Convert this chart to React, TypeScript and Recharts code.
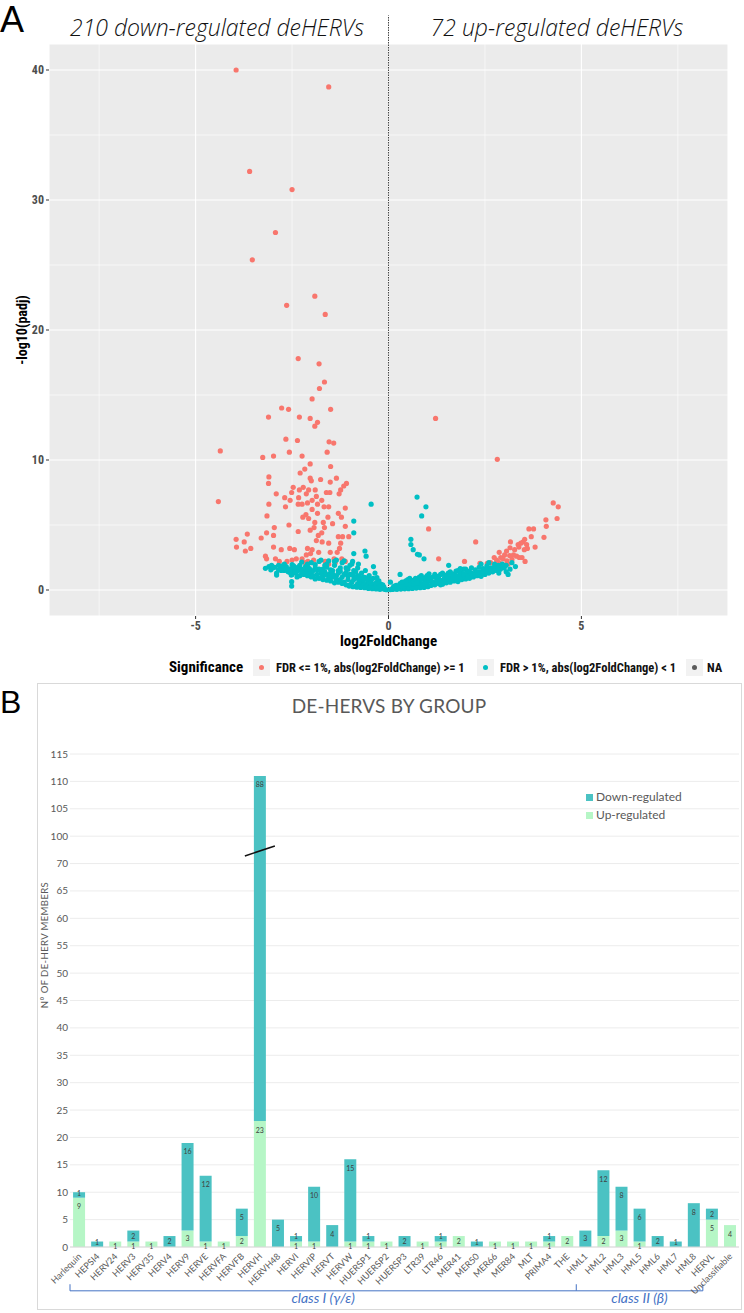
import React from "react";
import {
  ScatterChart,
  Scatter,
  XAxis,
  YAxis,
  CartesianGrid,
  ReferenceLine,
  ReferenceDot,
  BarChart,
  Bar,
  LabelList,
} from "recharts";

// ---------- panel A : volcano plot ----------
const redPoints: [number, number][] = [
  [-3.95, 40.0], [-1.55, 38.7], [-3.6, 32.2], [-2.5, 30.8],
  [-2.93, 27.5], [-3.53, 25.4], [-1.91, 22.6], [-2.64, 21.9], [-1.64, 21.2],
  [-2.34, 17.8], [-1.8, 17.4], [-1.66, 16.0], [-1.79, 15.5], [-1.98, 14.7],
  [-2.77, 14.0], [-2.59, 13.9], [-1.5, 13.9], [-3.11, 13.3], [-2.31, 13.3],
  [-2.03, 13.2], [-1.84, 12.9], [-1.91, 12.6], [-2.66, 11.6], [-2.36, 11.5],
  [-1.54, 11.4], [-1.42, 11.3], [-4.36, 10.7], [-2.57, 10.6], [-1.59, 10.6],
  [-3.26, 10.2], [-2.98, 10.3], [-2.24, 10.3], [-2.03, 9.7], [-1.5, 9.5],
  [-2.17, 9.3], [-2.29, 9.0], [-3.1, 8.7], [-2.03, 8.6], [-1.76, 8.5],
  [-1.35, 8.6], [-1.09, 8.2], [-3.11, 8.2], [-2.0, 8.4], [-2.47, 7.9],
  [-2.21, 7.9], [-1.51, 8.3], [-1.16, 8.0], [-1.24, 7.7], [-2.51, 7.5],
  [-2.31, 7.7], [-2.07, 7.7], [-1.9, 7.7], [-2.91, 7.4], [-2.13, 7.4],
  [-1.61, 7.5], [-1.52, 7.5], [-1.28, 7.4], [-1.87, 7.2], [-2.33, 7.1],
  [-2.69, 7.1], [-2.55, 6.9], [-1.98, 6.9], [-1.73, 6.9], [-4.41, 6.8],
  [-2.34, 6.6], [-2.24, 6.6], [-2.1, 6.7], [-1.84, 6.6], [-3.1, 6.6],
  [-2.67, 6.4], [-1.67, 6.4], [-1.55, 6.4], [-1.12, 6.3], [-1.98, 6.2],
  [-1.3, 5.9], [-1.84, 5.9], [-3.15, 5.7], [-2.22, 5.6], [-2.14, 5.8],
  [-2.07, 5.5], [-1.57, 5.6], [-1.22, 5.6], [-1.91, 5.2], [-2.58, 5.0],
  [-1.69, 5.2], [-1.45, 5.1], [-1.12, 4.9], [-2.96, 4.8], [-1.93, 4.8],
  [-1.66, 4.8], [-2.03, 4.6], [-2.34, 4.5], [-1.73, 4.4], [-3.16, 4.4],
  [-2.98, 4.2], [-3.66, 4.3], [-1.82, 4.2], [-3.3, 4.0], [-3.95, 3.9],
  [-1.3, 4.1], [-1.19, 4.1], [-1.03, 4.1], [-3.74, 3.7], [-1.87, 3.8],
  [-1.72, 3.7], [-1.55, 3.6], [-1.24, 3.6], [-3.94, 3.3], [-3.57, 3.2],
  [-2.98, 3.3], [-2.78, 3.1], [-2.56, 3.2], [-2.44, 3.1], [-2.1, 3.2],
  [-1.98, 3.1], [-1.27, 3.2], [-3.71, 3.0], [-1.81, 2.9], [-1.51, 2.9],
  [-1.33, 2.9], [-3.19, 2.6], [-2.13, 2.7], [-2.02, 2.8], [-3.16, 2.4],
  [-2.93, 2.4], [-2.83, 2.2], [-2.63, 2.2], [-2.5, 2.3], [-2.39, 2.4],
  [-2.24, 2.4], [-2.09, 2.2], [-1.94, 2.3], [-1.64, 2.2], [-1.41, 2.4],
  [-1.21, 2.4], [-1.12, 2.2], [-2.16, 2.1], [-1.55, 2.0], [-1.38, 2.1],
  [1.22, 13.2], [2.82, 10.05], [1.04, 4.7], [1.3, 2.4], [2.26, 3.7],
  [1.97, 2.2], [2.37, 2.05], [4.27, 6.7], [4.4, 6.4], [4.37, 5.5],
  [4.08, 5.4], [4.09, 4.9], [3.64, 4.7], [3.76, 4.7], [4.03, 4.05],
  [3.7, 4.1], [3.8, 3.3], [3.53, 3.9], [3.49, 3.7], [3.43, 3.6],
  [3.36, 3.5], [3.16, 3.7], [3.58, 3.5], [3.6, 3.2], [3.52, 3.1],
  [3.38, 3.3], [3.15, 3.25], [3.06, 3.0], [3.27, 3.1], [2.87, 2.9],
  [3.01, 2.7], [3.14, 2.65], [3.24, 2.7], [3.32, 2.6], [3.39, 2.5],
  [3.46, 2.5], [3.54, 2.2], [2.91, 2.5], [2.74, 2.5], [2.8, 2.3],
  [2.97, 2.4], [3.07, 2.25], [3.2, 2.35], [2.65, 2.1], [2.87, 2.1],
  [2.56, 2.05], [3.0, 1.9], [3.1, 2.0],
];

const tealPoints: [number, number][] = [
  [-0.05, 0.02], [0.05, 0.03], [-0.1, 0.05], [0.1, 0.04], [-0.15, 0.1], [0.15, 0.08],
  [-0.2, 0.15], [0.2, 0.1], [-0.25, 0.1], [0.25, 0.15], [-0.3, 0.2], [0.3, 0.12],
  [-0.35, 0.3], [0.35, 0.2], [-0.4, 0.15], [0.4, 0.25], [-0.45, 0.35], [0.45, 0.18],
  [-0.5, 0.25], [0.5, 0.3], [-0.55, 0.45], [0.55, 0.22], [-0.6, 0.3], [0.6, 0.4],
  [-0.65, 0.55], [0.65, 0.3], [-0.7, 0.4], [0.7, 0.5], [-0.75, 0.7], [0.75, 0.35],
  [-0.8, 0.5], [0.8, 0.6], [-0.85, 0.3], [0.85, 0.45], [-0.9, 0.8], [0.9, 0.3],
  [-0.95, 0.6], [0.95, 0.7], [-1.0, 0.4], [1.0, 0.5],
  [-0.2, 0.45], [-0.3, 0.6], [-0.4, 0.9], [-0.5, 1.1], [-0.6, 0.95], [-0.7, 1.3],
  [-0.8, 1.1], [-0.9, 1.5], [-1.0, 1.2], [-1.1, 1.7], [-1.2, 1.0], [-1.3, 1.5],
  [-1.4, 1.9], [-1.5, 1.3], [-1.6, 1.75], [-1.7, 1.1], [-1.8, 1.6], [-1.9, 1.95],
  [-2.0, 1.4], [-2.1, 1.8],
  [0.2, 0.35], [0.3, 0.5], [0.4, 0.6], [0.5, 0.8], [0.6, 0.75], [0.7, 0.9],
  [0.8, 1.0], [0.9, 0.85], [1.0, 1.1], [1.1, 0.9], [1.2, 1.2], [1.3, 1.0],
  [1.4, 1.3], [1.5, 1.1], [1.6, 1.4], [1.7, 1.2], [1.8, 1.5], [1.9, 1.3],
  [2.0, 1.6], [2.1, 1.4],
  [-1.1, 0.4], [-1.2, 0.5], [-1.3, 0.6], [-1.4, 0.55], [-1.5, 0.7], [-1.6, 0.75],
  [-1.7, 0.8], [-1.8, 0.9], [-1.9, 0.85], [-2.0, 1.0], [-2.1, 1.1], [-2.2, 1.2],
  [-2.3, 1.1], [-2.4, 1.3], [-2.5, 1.2], [-2.6, 1.4], [-2.7, 1.5], [-2.8, 1.6],
  [-2.9, 1.3], [-3.0, 1.7],
  [1.1, 0.35], [1.2, 0.4], [1.3, 0.5], [1.4, 0.45], [1.5, 0.55], [1.6, 0.6],
  [1.7, 0.7], [1.8, 0.65], [1.9, 0.8], [2.0, 0.85], [2.1, 0.9], [2.2, 1.0],
  [2.3, 1.1], [2.4, 1.05], [2.5, 1.2], [2.6, 1.3], [2.7, 1.4], [2.8, 1.5],
  [2.9, 1.6], [3.0, 1.7],
  [-1.05, 0.8], [-1.15, 1.2], [-1.25, 0.8], [-1.35, 1.1], [-1.45, 1.0], [-1.55, 1.2],
  [-1.65, 1.4], [-1.75, 1.3], [-1.85, 1.2], [-1.95, 1.5], [-2.05, 1.3], [-2.15, 1.5],
  [-2.25, 1.6], [-2.35, 1.5], [-2.45, 1.7], [-2.55, 1.6], [-2.65, 1.8], [-2.75, 1.7],
  [-2.85, 1.9], [-3.1, 1.8],
  [1.05, 0.7], [1.15, 0.6], [1.25, 0.8], [1.35, 0.75], [1.45, 0.9], [1.55, 0.85],
  [1.65, 1.0], [1.75, 0.95], [1.85, 1.1], [1.95, 1.05], [2.05, 1.2], [2.15, 1.15],
  [2.25, 1.3], [2.35, 1.4], [2.45, 1.5], [2.55, 1.6], [2.65, 1.7], [2.75, 1.8],
  [2.85, 1.9], [2.95, 2.0],
  [-0.12, 0.25], [-0.22, 0.05], [-0.32, 0.08], [-0.42, 0.1], [-0.52, 0.12], [-0.62, 0.18],
  [-0.72, 0.2], [-0.82, 0.22], [-0.92, 0.25], [-1.02, 0.3], [0.12, 0.2], [0.22, 0.05],
  [0.32, 0.07], [0.42, 0.09], [0.52, 0.1], [0.62, 0.12], [0.72, 0.15], [0.82, 0.18],
  [0.92, 0.2], [1.02, 0.25],
  [-0.3, 0.95], [-0.5, 0.6], [-0.7, 0.75], [-0.9, 1.05], [-1.1, 1.35], [-1.3, 1.3],
  [-1.5, 1.55], [-1.7, 1.6], [-1.9, 1.7], [-2.1, 2.0], [-2.3, 1.9], [-2.5, 1.95],
  [-2.7, 2.0], [-0.35, 1.3], [-0.6, 1.5], [-0.8, 1.7], [-1.0, 1.9], [-1.2, 2.1],
  [-1.4, 2.2], [-1.6, 2.0], [-1.8, 2.2], [-2.0, 2.1], [-0.25, 0.7], [-0.45, 0.8],
  [-0.65, 1.0], [-0.85, 1.4], [-1.05, 1.6], [-1.25, 1.7], [-1.45, 1.5], [-1.65, 1.9],
  [0.35, 0.4], [0.55, 0.55], [0.75, 0.7], [0.95, 0.95], [1.15, 1.0], [1.35, 1.2],
  [1.55, 1.3], [1.75, 1.45], [1.95, 1.6], [2.15, 1.7], [2.35, 1.75], [2.55, 1.85],
  [2.75, 2.0], [0.45, 0.45], [0.65, 0.65], [0.85, 0.8], [1.05, 0.9], [1.25, 1.05],
  [1.45, 1.15], [1.65, 1.25], [1.85, 1.35], [2.05, 1.45], [2.25, 1.55], [2.45, 1.65],
  [3.05, 1.4], [3.15, 1.6],
  [0.15, 0.3], [0.25, 0.25], [0.35, 0.6], [0.45, 0.7], [0.55, 0.9], [0.65, 0.45],
  [0.75, 0.55], [0.85, 1.1], [0.95, 0.45], [1.05, 1.25], [1.15, 0.45], [1.25, 0.6],
  [1.35, 0.4], [1.45, 0.65], [1.55, 1.0], [1.65, 0.75], [1.75, 1.1], [1.85, 0.85],
  [1.95, 1.25], [2.05, 1.0], [2.15, 1.3], [2.25, 1.15], [2.35, 1.25], [2.45, 1.3],
  [2.55, 1.4], [2.65, 1.5], [2.75, 1.6], [2.85, 1.7], [2.95, 1.8], [3.05, 1.9],
  [-0.15, 0.4], [-0.25, 0.3], [-0.35, 0.5], [-0.45, 0.55], [-0.55, 0.8], [-0.65, 0.75],
  [-0.75, 1.0], [-0.85, 0.9], [-0.95, 1.2], [-1.05, 1.05], [-1.15, 0.6], [-1.25, 1.45],
  [-1.35, 0.8], [-1.45, 1.25], [-1.55, 0.95], [-1.65, 1.15], [-1.75, 0.95], [-1.85, 1.55],
  [-1.95, 1.1], [-2.05, 1.65], [-2.15, 1.25], [-2.25, 1.4], [-2.35, 1.75], [-2.45, 1.45],
  [-2.55, 1.35], [-2.65, 1.55], [-2.75, 1.85], [-2.85, 1.55], [-2.95, 1.75], [-3.05, 1.55],
  [-1.15, 2.25], [-1.35, 2.3], [-1.55, 2.25], [-1.75, 2.3], [-0.95, 2.0], [-2.25, 2.15],
  [-0.45, 6.6], [0.74, 7.15], [0.97, 6.4], [0.86, 5.7], [0.58, 3.9], [0.58, 3.5],
  [0.64, 3.1], [0.75, 2.75], [0.8, 2.7], [0.92, 2.4], [1.56, 1.9], [1.86, 1.65],
  [-0.39, 1.8], [-0.61, 3.0], [3.29, 1.8], [3.1, 1.2], [2.86, 1.3], [-0.9, 5.3],
  [-0.9, 4.4], [-0.9, 2.8], [-0.93, 2.2], [-0.78, 2.0], [-0.58, 2.6], [-3.19, 1.67],
  [-3.03, 1.9], [-2.9, 1.15], [-2.78, 1.5], [-2.58, 1.6], [-2.52, 1.15], [-2.51, 0.64],
  [-2.51, 0.3], [-2.46, 1.85], [-2.43, 1.4], [-2.37, 1.0], [-2.15, 1.8], [0.3, 1.2],
  [0.05, 0.6], [2.4, 2.0], [3.2, 2.1], [2.6, 2.1],
];

const volcanoXTicks = [-5, 0, 5];
const volcanoYTicks = [0, 10, 20, 30, 40];
const minorX = [-7.5, -2.5, 2.5, 7.5];
const minorY = [5, 15, 25, 35];

// ---------- panel B : DE-HERVs by group ----------
const groups = [
  "Harlequin", "HEPSI4", "HERV24", "HERV3", "HERV35", "HERV4", "HERV9", "HERVE",
  "HERVFA", "HERVFB", "HERVH", "HERVH48", "HERVI", "HERVIP", "HERVT", "HERVW",
  "HUERSP1", "HUERSP2", "HUERSP3", "LTR39", "LTR46", "MER41", "MER50", "MER66",
  "MER84", "MLT", "PRIMA4", "THE", "HML1", "HML2", "HML3", "HML5", "HML6", "HML7",
  "HML8", "HERVL", "Unclassifiable",
];
const upCounts = [
  9, 0, 1, 1, 1, 0, 3, 1, 1, 2, 23, 0, 1, 1, 0, 1, 1, 1, 0, 1, 1, 2, 0, 1, 1, 1, 1,
  2, 0, 2, 3, 1, 0, 0, 0, 5, 4,
];
const downCounts = [
  1, 1, 0, 2, 0, 2, 16, 12, 0, 5, 88, 5, 1, 10, 4, 15, 1, 0, 2, 0, 1, 0, 1, 0, 0, 0, 1,
  0, 3, 12, 8, 6, 2, 1, 8, 2, 0,
];
// broken axis: 70 is followed directly by 100
const barTicks = [0, 5, 10, 15, 20, 25, 30, 35, 40, 45, 50, 55, 60, 65, 70, 75, 80, 85, 90];
const barTickLabels = [
  "0", "5", "10", "15", "20", "25", "30", "35", "40", "45", "50", "55", "60", "65", "70",
  "100", "105", "110", "115",
];
const brk = (v: number) => (v <= 70 ? v : v - 25);

const barData = groups.map((g, i) => ({
  group: g,
  up: upCounts[i],
  down: brk(upCounts[i] + downCounts[i]) - brk(upCounts[i]),
  upLabel: upCounts[i],
  downLabel: downCounts[i],
}));

const RED = "#F8766D";
const TEAL = "#00BFC4";
const DOWN = "#4BC2C3";
const UP = "#B6F6C6";
const GREY = "#595959";
const BLUE = "#4472C4";
const NARROW = '"Liberation Sans Narrow", "Roboto Condensed", "DejaVu Sans Condensed", "Liberation Sans", Arial, sans-serif';
const SANS = '"Liberation Sans", Arial, sans-serif';
const CAL = 'Lato, "Open Sans", sans-serif';

const dot = (color: string) => (p: any) => (
  <circle cx={p.cx} cy={p.cy} r={2.6} fill={color} />
);

// shift = nudge for one-unit segments so stacked "1"/"1" labels don't collide
const barValue = (shift: number) => (p: any) => {
  const { x, y, width, height, value } = p;
  if (!value) return null;
  let cy = y + Math.min(9, height / 2);
  if (height < 8) cy += shift;
  return (
    <text x={x + width / 2} y={cy + 2.5} textAnchor="middle" fontSize={7} fill="#404040" fontFamily={CAL}>
      {value}
    </text>
  );
};

const RotTick = (p: any) => {
  const { x, y, payload } = p;
  return (
    <text
      x={x + 3}
      y={y + 2}
      transform={`rotate(-45, ${x + 3}, ${y + 2})`}
      textAnchor="end"
      fontSize={9}
      fill={GREY}
      fontFamily={CAL}
    >
      {payload.value}
    </text>
  );
};

const legendItems = [
  { color: RED, label: "FDR <= 1%, abs(log2FoldChange) >= 1", key: 253, text: 276 },
  { color: TEAL, label: "FDR > 1%, abs(log2FoldChange) < 1", key: 477, text: 500 },
  { color: "#5a5a5a", label: "NA", key: 686, text: 707 },
];

export default function App() {
  return (
    <div style={{ position: "relative", width: 744, height: 1313, background: "#fff", fontFamily: SANS, overflow: "hidden" }}>
      <style>{`body{margin:0}`}</style>

      {/* panel A */}
      <div style={{ position: "absolute", left: 0, top: 0, fontSize: 36, lineHeight: "40px" }}>A</div>
      <div style={{ position: "absolute", left: 217, top: 27, transform: "translate(-50%,-50%)", fontFamily: '"Open Sans", sans-serif', fontStyle: "italic", fontWeight: 300, fontSize: 23, whiteSpace: "nowrap", color: "#111" }}>
        210 down-regulated deHERVs
      </div>
      <div style={{ position: "absolute", left: 557, top: 27, transform: "translate(-50%,-50%)", fontFamily: '"Open Sans", sans-serif', fontStyle: "italic", fontWeight: 300, fontSize: 23, whiteSpace: "nowrap", color: "#111" }}>
        72 up-regulated deHERVs
      </div>

      <div style={{ position: "absolute", left: 0, top: 0 }}>
        <ScatterChart width={744} height={680} margin={{ top: 44, right: 16, bottom: 34, left: 0 }}>
          <CartesianGrid fill="#EBEBEB" fillOpacity={1} stroke="#FFFFFF" strokeWidth={1.1} />
          {minorX.map((v) => (
            <ReferenceLine key={"mx" + v} x={v} stroke="#FFFFFF" strokeWidth={0.6} />
          ))}
          {minorY.map((v) => (
            <ReferenceLine key={"my" + v} y={v} stroke="#FFFFFF" strokeWidth={0.6} />
          ))}
          <XAxis
            type="number"
            dataKey="x"
            domain={[-8.8, 8.8]}
            ticks={volcanoXTicks}
            allowDataOverflow
            axisLine={false}
            tickSize={3}
            tickLine={{ stroke: "#333" }}
            tick={{ fill: "#4D4D4D", fontSize: 12, fontWeight: "bold", fontFamily: NARROW }}
            height={30}
            label={{ value: "log2FoldChange", position: "insideBottom", offset: 0, fill: "#000", fontSize: 15, fontWeight: "bold", fontFamily: NARROW }}
          />
          <YAxis
            type="number"
            dataKey="y"
            domain={[-2, 42]}
            ticks={volcanoYTicks}
            allowDataOverflow
            axisLine={false}
            tickSize={3}
            tickLine={{ stroke: "#333" }}
            tick={{ fill: "#4D4D4D", fontSize: 12, fontWeight: "bold", fontFamily: NARROW }}
            width={49}
            label={{ value: "-log10(padj)", angle: -90, position: "center", dx: -2, fill: "#000", fontSize: 14, fontWeight: "bold", fontFamily: NARROW }}
          />
          <Scatter
            data={redPoints.map(([x, y]) => ({ x, y }))}
            shape={dot(RED)}
            isAnimationActive={false}
          />
          <Scatter
            data={tealPoints.map(([x, y]) => ({ x, y }))}
            shape={dot(TEAL)}
            isAnimationActive={false}
          />
          <ReferenceLine
            segment={[{ x: 0, y: -2 }, { x: 0, y: 44.2 }]}
            ifOverflow="visible"
            stroke="#444"
            strokeWidth={1}
            strokeDasharray="1.5 1"
          />
        </ScatterChart>
      </div>

      {/* panel A legend */}
      <div style={{ position: "absolute", left: 169, top: 658, fontFamily: NARROW, fontWeight: "bold", fontSize: 15, lineHeight: "18px", color: "#000" }}>
        Significance
      </div>
      {legendItems.map((it) => (
        <React.Fragment key={it.label}>
          <div style={{ position: "absolute", left: it.key, top: 659, width: 17, height: 17, background: "#F2F2F2" }}>
            <div style={{ position: "absolute", left: 6, top: 6, width: 5, height: 5, borderRadius: 3, background: it.color }} />
          </div>
          <div style={{ position: "absolute", left: it.text, top: 659, fontFamily: NARROW, fontWeight: "bold", fontSize: 12.5, lineHeight: "17px", color: "#111", whiteSpace: "nowrap" }}>
            {it.label}
          </div>
        </React.Fragment>
      ))}

      {/* panel B */}
      <div style={{ position: "absolute", left: 0, top: 684, fontSize: 32, lineHeight: "36px" }}>B</div>
      <div style={{ position: "absolute", left: 37, top: 683, width: 703, height: 625, border: "1px solid #D9D9D9" }} />
      <div style={{ position: "absolute", left: 389, top: 705, transform: "translate(-50%,-50%)", fontFamily: CAL, fontSize: 19, color: GREY, whiteSpace: "nowrap", letterSpacing: 0.2 }}>
        DE-HERVS BY GROUP
      </div>
      <div style={{ position: "absolute", left: 44, top: 945, transform: "translate(-50%,-50%) rotate(-90deg)", fontFamily: CAL, fontSize: 9.5, color: GREY, whiteSpace: "nowrap", letterSpacing: 0.4 }}>
        N° OF DE-HERV MEMBERS
      </div>

      <div style={{ position: "absolute", left: 0, top: 683 }}>
        <BarChart width={744} height={630} data={barData} margin={{ top: 71, right: 5, bottom: 26, left: 0 }} barCategoryGap="17%">
          <CartesianGrid vertical={false} stroke="#ECECEC" strokeWidth={1} />
          <XAxis
            dataKey="group"
            interval={0}
            tickLine={false}
            stroke="#D9D9D9"
            height={40}
            tick={<RotTick />}
          />
          <YAxis
            type="number"
            domain={[0, 90]}
            ticks={barTicks}
            interval={0}
            axisLine={false}
            tickLine={false}
            tickSize={2}
            tickMargin={0}
            width={70}
            tick={{ fill: GREY, fontSize: 10, fontFamily: CAL }}
            tickFormatter={(v: number) => barTickLabels[barTicks.indexOf(v)]}
          />
          <Bar dataKey="up" stackId="a" fill={UP} isAnimationActive={false}>
            <LabelList dataKey="upLabel" content={barValue(1.8)} />
          </Bar>
          <Bar dataKey="down" stackId="a" fill={DOWN} isAnimationActive={false}>
            <LabelList dataKey="downLabel" content={barValue(-1.8)} />
          </Bar>
          <ReferenceDot
            x="HERVH"
            y={72.3}
            ifOverflow="visible"
            shape={(p: any) => (
              <line x1={p.cx - 15} y1={p.cy + 5} x2={p.cx + 15} y2={p.cy - 5} stroke="#111" strokeWidth={1.5} />
            )}
          />
          <ReferenceLine
            segment={[{ x: "Harlequin", y: -8 }, { x: "HML1", y: -8 }]}
            position="start"
            ifOverflow="visible"
            stroke={BLUE}
            strokeWidth={1}
            label={{ value: "class I (γ/ε)", position: "bottom", offset: 2, fill: BLUE, fontSize: 14, fontStyle: "italic", fontFamily: CAL }}
          />
          <ReferenceLine
            segment={[{ x: "HML1", y: -8 }, { x: "HERVL", y: -8 }]}
            position="start"
            ifOverflow="visible"
            stroke={BLUE}
            strokeWidth={1}
            label={{ value: "class II (β)", position: "bottom", offset: 2, fill: BLUE, fontSize: 14, fontStyle: "italic", fontFamily: CAL }}
          />
          {["Harlequin", "HML1", "HERVL"].map((g) => (
            <ReferenceLine
              key={"br" + g}
              segment={[{ x: g, y: -8 }, { x: g, y: -6.8 }]}
              position="start"
              ifOverflow="visible"
              stroke={BLUE}
              strokeWidth={1}
            />
          ))}
        </BarChart>
      </div>

      {/* panel B legend */}
      {[
        { c: DOWN, t: "Down-regulated", y: 797 },
        { c: UP, t: "Up-regulated", y: 815 },
      ].map((it) => (
        <div key={it.t} style={{ position: "absolute", left: 586, top: it.y - 8, display: "flex", alignItems: "center", fontFamily: CAL, fontSize: 12, color: GREY, lineHeight: "16px" }}>
          <span style={{ display: "inline-block", width: 7, height: 7, background: it.c, marginRight: 3 }} />
          {it.t}
        </div>
      ))}
    </div>
  );
}
